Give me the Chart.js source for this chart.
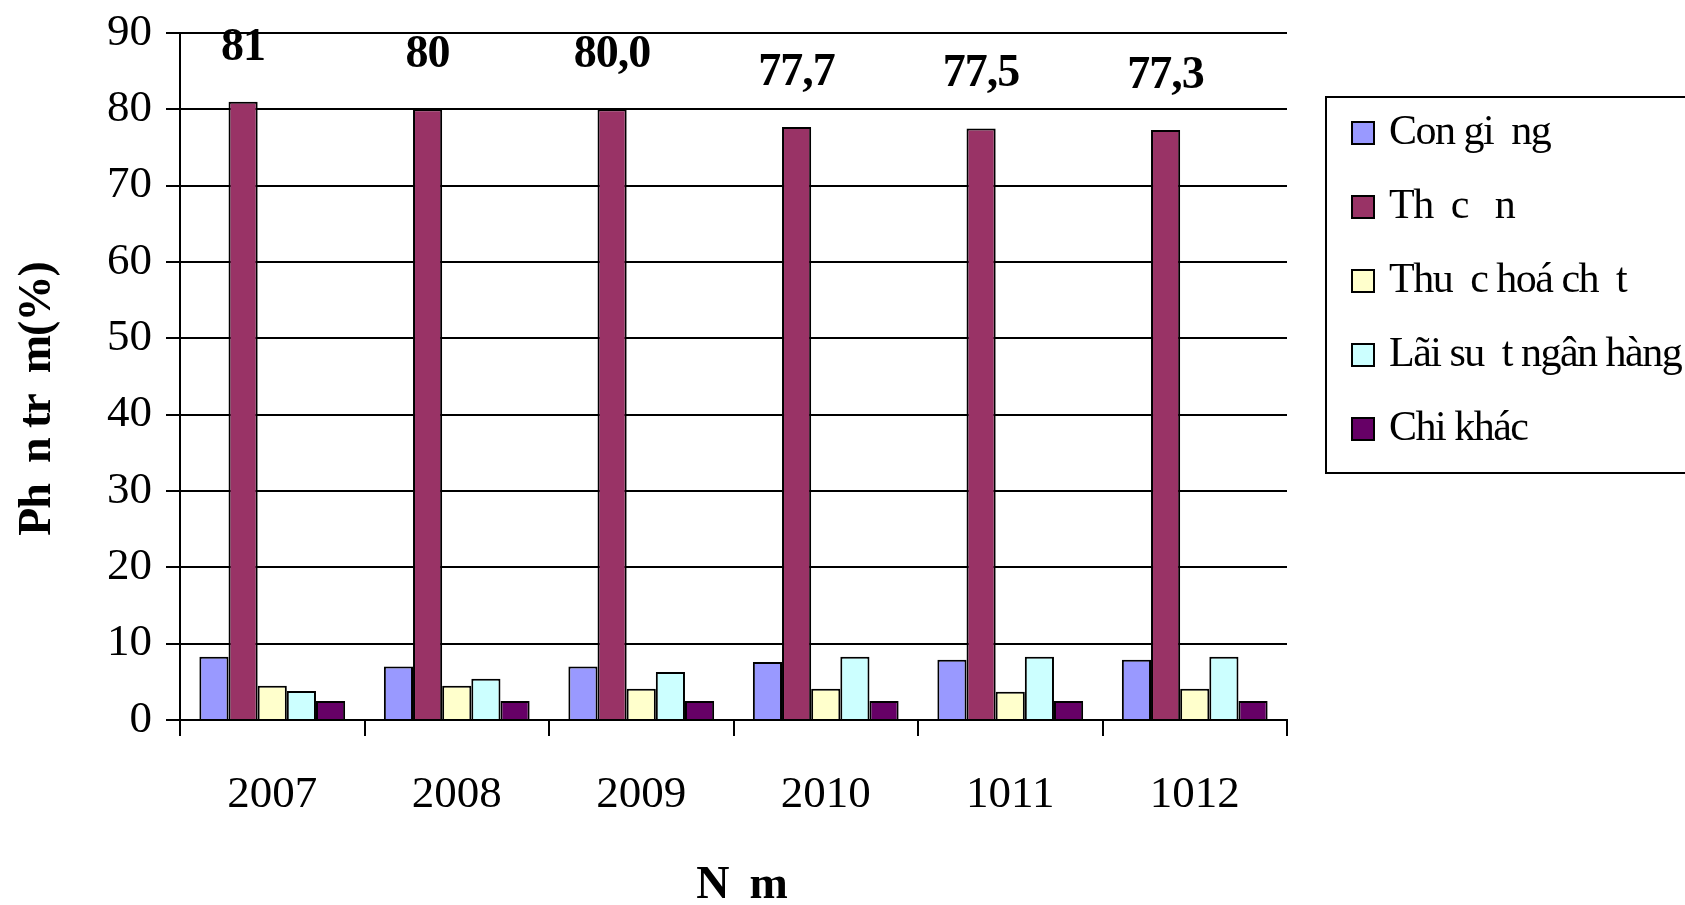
<!DOCTYPE html>
<html>
<head>
<meta charset="utf-8">
<script src="https://cdn.jsdelivr.net/npm/chart.js@4/dist/chart.umd.min.js"></script>
<style>
  html, body { margin: 0; padding: 0; background: #ffffff; }
  canvas { display: block; }
</style>
</head>
<body>
<canvas id="c" width="1685" height="905"></canvas>
<script>
// Years on the category axis
const years = ['2007', '2008', '2009', '2010', '1011', '1012'];

// Cost structure per year (%)
const conGiong   = [8.3, 7.0, 7.0, 7.6, 7.9, 7.9];
const thucAn     = [81, 80, 80.0, 77.7, 77.5, 77.3];
const thuocHoa   = [4.5, 4.5, 4.1, 4.1, 3.7, 4.1];
const laiSuat    = [3.8, 5.4, 6.3, 8.3, 8.3, 8.3];
const chiKhac    = [2.5, 2.5, 2.5, 2.5, 2.5, 2.5];

// Value labels printed above the feed-cost bars
const thucAnLabels = ['81', '80', '80,0', '77,7', '77,5', '77,3'];

// Series names
const seriesNames = ['Con gi  ng', 'Th  c   n', 'Thu  c hoá ch  t', 'Lãi su  t ngân hàng', 'Chi khác'];
const seriesColors = ['#9999FF', '#993366', '#FFFFCC', '#CCFFFF', '#660066'];

// Axis values
const yMin = 0, yMax = 90, yStep = 10;
const yTitle = 'Ph  n tr  m(%)';
const xTitle = 'N  m';

const SERIF = "'Liberation Serif', 'Times New Roman', serif";

const seriesData = [conGiong, thucAn, thuocHoa, laiSuat, chiKhac];

const datasets = seriesData.map((d, i) => ({
  label: seriesNames[i],
  data: d,
  backgroundColor: seriesColors[i],
  borderColor: '#000000',
  borderWidth: 2,
  borderSkipped: 'bottom'
}));

// Bold value labels above the second series
const valueLabels = {
  id: 'valueLabels',
  afterDatasetsDraw(chart) {
    const meta = chart.getDatasetMeta(1);
    const ctx = chart.ctx;
    ctx.save();
    ctx.fillStyle = '#000';
    ctx.font = "bold 46px " + SERIF;
    ctx.letterSpacing = '-1px';
    ctx.textAlign = 'center';
    ctx.textBaseline = 'middle';
    meta.data.forEach((bar, i) => {
      ctx.fillText(thucAnLabels[i], bar.x, bar.y - 54);
    });
    ctx.restore();
  }
};

// Axis titles
const axisTitles = {
  id: 'axisTitles',
  afterDraw(chart) {
    const ctx = chart.ctx;
    const area = chart.chartArea;
    ctx.save();
    ctx.fillStyle = '#000';
    ctx.font = "bold 46px " + SERIF;
    ctx.letterSpacing = '-1px';
    ctx.textAlign = 'center';
    ctx.textBaseline = 'middle';
    ctx.fillText(xTitle, (area.left + area.right) / 2 + 8, 886);
    ctx.translate(38, 399);
    ctx.rotate(-Math.PI / 2);
    ctx.fillText(yTitle, 0, 0);
    ctx.restore();
  }
};

// Boxed legend on the right
const boxLegend = {
  id: 'boxLegend',
  afterDraw(chart) {
    const ctx = chart.ctx;
    ctx.save();
    ctx.strokeStyle = '#000';
    ctx.lineWidth = 2;
    ctx.strokeRect(1326, 97, 420, 376);
    ctx.font = "42px " + SERIF;
    ctx.letterSpacing = '-1.5px';
    ctx.textBaseline = 'middle';
    ctx.textAlign = 'left';
    chart.data.datasets.forEach((ds, i) => {
      const cy = 133 + i * 74;
      ctx.fillStyle = ds.backgroundColor;
      ctx.fillRect(1352, cy - 11, 22, 22);
      ctx.lineWidth = 2;
      ctx.strokeRect(1352, cy - 11, 22, 22);
      ctx.fillStyle = '#000';
      ctx.fillText(ds.label, 1389, cy);
    });
    ctx.restore();
  }
};

new Chart(document.getElementById('c'), {
  type: 'bar',
  data: { labels: years, datasets },
  plugins: [valueLabels, axisTitles, boxLegend],
  options: {
    responsive: false,
    animation: false,
    devicePixelRatio: 1,
    layout: { padding: { left: 0, right: 398, top: 33, bottom: 0 } },
    datasets: { bar: { categoryPercentage: 0.79, barPercentage: 1.0 } },
    plugins: {
      legend: { display: false },
      tooltip: { enabled: false },
      title: { display: false }
    },
    scales: {
      x: {
        offset: true,
        grid: {
          offset: true,
          drawOnChartArea: false,
          drawTicks: true,
          tickLength: 16,
          color: '#000',
          lineWidth: 2
        },
        border: { display: true, color: '#000', width: 2 },
        ticks: {
          color: '#000',
          font: { family: SERIF, size: 45 },
          padding: 32,
          maxRotation: 0
        },
        afterFit(scale) { scale.height = 185; }
      },
      y: {
        min: yMin,
        max: yMax,
        grid: {
          drawOnChartArea: true,
          drawTicks: true,
          tickLength: 14,
          color: '#000',
          lineWidth: 2
        },
        border: { display: true, color: '#000', width: 2 },
        ticks: {
          stepSize: yStep,
          color: '#000',
          font: { family: SERIF, size: 45 },
          padding: 14
        },
        afterFit(scale) {
          scale.width = 180;
          scale.paddingTop = 0;
          scale.paddingBottom = 0;
        }
      }
    }
  }
});
</script>
</body>
</html>
